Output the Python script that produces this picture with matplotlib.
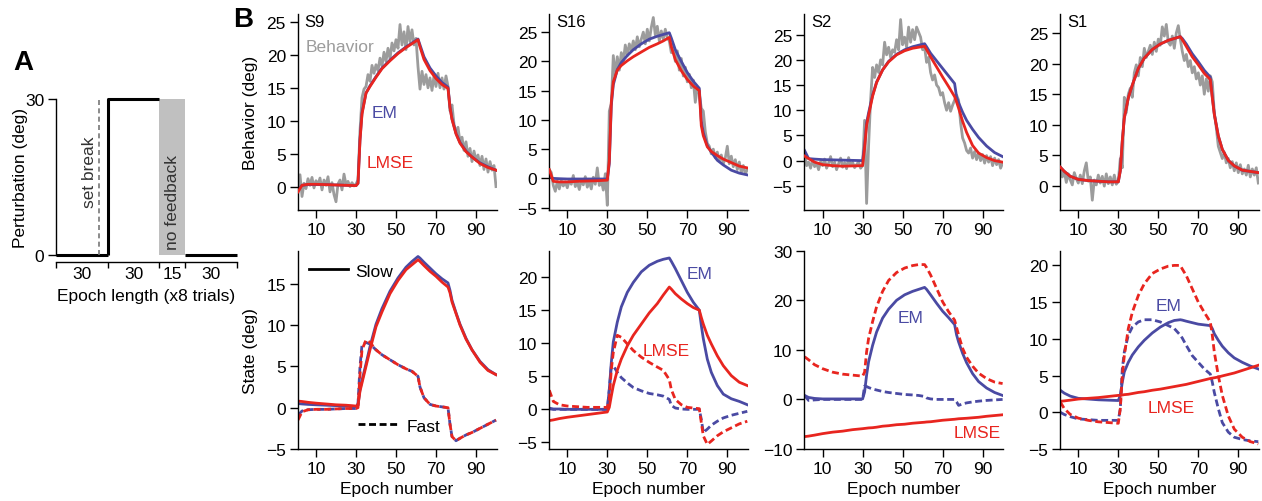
import matplotlib.pyplot as plt
from matplotlib.lines import Line2D
import numpy as np

plt.rcParams['font.family'] = ['Liberation Sans', 'DejaVu Sans']
plt.rcParams['font.size'] = 12.5
plt.rcParams['axes.linewidth'] = 1.0

BLUE = '#4a4aa3'
RED = '#e8251f'
GRAY = '#9c9c9c'
DASH = (0, (2.5, 1.3))

# ---- panel A: perturbation schedule
epoch_lengths = [30, 30, 15, 30]
epoch_labels = ['30', '30', '15', '30']
pert_levels = [0, 30, None, 0]   # None = no feedback block
set_break = 25

# ---- panel B data
epochs = np.arange(1, 101)
knots = [1, 3, 6, 10, 15, 20, 25, 30, 31, 32, 33, 35, 37, 40, 43, 47, 51, 55,
         58, 61, 62, 64, 67, 70, 73, 76, 77, 78, 80, 82, 85, 88, 92, 96, 100]

# S9
s9_behavior = [-0.8, 1.8, -1.5, 0.5, -0.3, 1.2, 0.2, 1.4, -0.2, 0.9,
               0.3, 1.3, -0.5, 1.0, 0.2, 1.5, -0.8, 0.6, -1.2, -2.3,
               0.4, 1.0, -0.5, 1.9, 0.3, 0.8, 0.0, 0.6, 0.1, 0.4,
               1.0, 8.5, 13.5, 14.8, 15.2, 17.0, 16.0, 18.4, 17.2, 18.5,
               17.6, 19.5, 18.3, 20.4, 19.0, 21.0, 19.4, 21.8, 20.6, 22.3,
               21.0, 24.6, 21.5, 23.5, 20.8, 24.3, 22.0, 23.8, 21.5, 22.5,
               18.2, 14.8, 17.5, 15.5, 17.0, 15.0, 16.5, 14.6, 16.8, 15.2,
               17.2, 15.0, 16.5, 14.8, 16.8, 15.2, 11.5, 12.4, 9.5, 8.2,
               9.0, 6.8, 7.5, 5.5, 6.8, 4.6, 5.8, 3.8, 5.4, 4.0,
               4.8, 3.2, 4.6, 2.6, 4.2, 2.2, 3.8, 2.5, 3.2, 0.0]
s9_em = [-0.5, 0.2, 0.3, 0.3, 0.3, 0.25, 0.2, 0.15,
         0.5, 7.2, 11.2, 14.2, 15.3, 16.7, 18.0, 19.2,
         20.3, 21.2, 21.8, 22.4, 21.5, 19.7, 18.0, 16.8,
         15.8, 15.1, 12.1, 10.3, 8.1, 6.7, 5.4, 4.5,
         3.6, 3.0, 2.5]
s9_lmse = [-0.8, 0.2, 0.35, 0.35, 0.3, 0.25, 0.2, 0.15,
           0.5, 7.0, 11.0, 14.2, 15.2, 16.6, 17.9, 19.1,
           20.2, 21.1, 21.7, 22.3, 21.2, 19.3, 17.6, 16.4,
           15.5, 14.9, 12.0, 10.2, 8.0, 6.6, 5.3, 4.5,
           3.5, 2.9, 2.5]
s9_em_slow = [0.5, 0.45, 0.4, 0.35, 0.3, 0.25, 0.2, 0.15,
              0.3, 2.2, 3.3, 5.3, 7.4, 10.1, 12.0, 14.1,
              15.7, 17.0, 17.7, 18.3, 18.1, 17.6, 16.9, 16.2,
              15.6, 15.1, 14.2, 13.0, 11.5, 10.1, 8.4, 7.0,
              5.6, 4.6, 4.0]
s9_lmse_slow = [0.8, 0.75, 0.65, 0.55, 0.45, 0.35, 0.3, 0.2,
                0.3, 2.0, 3.0, 5.0, 7.0, 9.8, 11.6, 13.8,
                15.4, 16.7, 17.3, 17.9, 17.7, 17.2, 16.5, 15.9,
                15.2, 14.6, 13.9, 12.8, 11.4, 10.0, 8.3, 7.0,
                5.5, 4.5, 4.0]
s9_em_fast = [-0.9, -0.4, -0.25, -0.2, -0.2, -0.15, -0.1, -0.1,
              0.5, 5.0, 7.6, 7.9, 7.7, 7.0, 6.4, 5.8,
              5.2, 4.7, 4.4, 3.8, 2.5, 1.2, 0.4, 0.2,
              0.1, 0.0, -2.0, -3.5, -4.0, -3.7, -3.3, -3.0,
              -2.5, -2.0, -1.5]
s9_lmse_fast = [-1.5, -0.5, -0.25, -0.2, -0.2, -0.15, -0.1, -0.1,
                0.0, 4.0, 7.0, 8.2, 7.9, 7.0, 6.4, 5.8,
                5.2, 4.7, 4.4, 3.8, 2.5, 1.2, 0.4, 0.2,
                0.1, 0.0, -2.0, -3.5, -4.0, -3.7, -3.3, -3.0,
                -2.5, -2.0, -1.5]

# S16
s16_behavior = [1.5, 1.0, -1.2, -2.2, -0.5, -1.8, -0.4, -1.3, -0.6, -1.6,
                -0.3, -1.0, 0.5, -1.4, -0.6, -1.9, -0.2, -1.1, 0.3, -1.5,
                -0.5, -1.8, 0.2, -1.0, 1.8, -1.2, -0.3, -2.0, 0.8, -4.6,
                11.5, 12.8, 21.0, 17.5, 20.8, 18.5, 21.5, 20.0, 22.8, 21.0,
                23.0, 21.8, 23.5, 22.0, 24.2, 22.5, 23.8, 25.0, 23.0, 25.5,
                23.5, 25.8, 27.5, 24.5, 26.0, 23.5, 25.2, 23.8, 25.5, 24.0,
                23.5, 21.5, 22.8, 20.0, 21.8, 18.5, 20.5, 17.5, 19.0, 16.5,
                17.8, 15.5, 16.8, 13.0, 15.5, 14.5, 12.0, 11.5, 8.0, 6.0,
                5.5, 4.2, 5.0, 3.5, 4.5, 3.0, 4.0, 2.5, 3.5, 5.5,
                2.5, 3.8, 2.0, 3.2, 1.5, 2.8, 1.0, 2.2, 0.8, 1.5]
s16_em = [0.2, 0.0, -0.05, -0.1, -0.1, -0.1, -0.1, -0.1,
          2.5, 12.5, 16.0, 18.6, 19.8, 21.0, 22.0, 23.0,
          23.8, 24.3, 24.6, 24.9, 24.0, 22.0, 20.0, 18.1,
          16.6, 15.4, 9.8, 7.8, 5.6, 4.5, 3.1, 2.3,
          1.4, 0.9, 0.6]
s16_lmse = [1.5, -0.5, -0.6, -0.6, -0.5, -0.45, -0.4, -0.3,
            3.0, 13.0, 16.5, 18.5, 19.3, 20.1, 20.8, 21.6,
            22.4, 23.0, 23.5, 24.1, 22.5, 20.3, 18.4, 16.9,
            15.8, 15.0, 9.0, 7.3, 5.4, 4.6, 3.9, 3.3,
            2.7, 2.1, 1.8]
s16_em_slow = [0.05, 0.05, 0.05, 0.0, 0.0, 0.0, 0.0, 0.0,
               3.0, 7.1, 10.2, 13.2, 15.5, 17.7, 19.2, 20.8,
               21.8, 22.4, 22.7, 22.9, 22.4, 21.3, 19.5, 17.7,
               16.2, 15.0, 12.7, 10.7, 7.6, 5.6, 3.6, 2.3,
               1.6, 1.2, 0.7]
s16_lmse_slow = [-1.7, -1.6, -1.4, -1.2, -1.0, -0.8, -0.6, -0.4,
                 0.3, 2.0, 3.6, 5.9, 7.6, 9.6, 11.2, 12.9,
                 14.6, 16.0, 17.3, 18.5, 18.2, 17.5, 16.7, 16.0,
                 15.4, 15.0, 13.9, 12.9, 11.2, 9.9, 8.1, 6.6,
                 5.1, 4.1, 3.6]
s16_em_fast = [0.2, 0.0, 0.0, 0.0, 0.0, 0.0, 0.0, 0.0,
               3.0, 6.5, 6.6, 5.6, 4.8, 4.0, 3.3, 2.8,
               2.4, 2.2, 2.0, 1.5, 0.6, 0.2, 0.05, 0.0,
               0.0, 0.0, -1.5, -3.5, -3.0, -2.4, -1.8, -1.3,
               -0.9, -0.6, -0.3]
s16_lmse_fast = [2.9, 1.2, 0.7, 0.5, 0.4, 0.3, 0.3, 0.3,
                 1.5, 6.0, 8.6, 11.2, 10.9, 9.9, 8.9, 7.9,
                 7.1, 6.4, 5.9, 4.5, 3.0, 1.5, 0.7, 0.3,
                 0.2, 0.1, -2.0, -4.0, -5.3, -4.8, -4.0, -3.4,
                 -2.8, -2.2, -1.8]

# S2
s2_behavior = [1.5, -1.0, -0.3, -1.5, 0.2, -1.2, -0.5, -1.8, -0.2, -1.0,
               0.3, -1.5, -0.5, 0.8, -1.2, -0.3, -1.8, -0.6, 0.5, -1.3,
               -0.4, -1.6, 0.6, -1.0, -0.3, -1.4, -0.8, -0.2, -1.5, -1.0,
               8.0, -8.5, 3.0, 12.0, 18.5, 16.5, 19.0, 17.5, 20.0, 19.0,
               23.5, 21.0, 22.5, 20.5, 22.0, 21.5, 24.0, 22.0, 28.0, 23.0,
               24.5, 22.5, 26.5, 23.5, 26.0, 24.0, 26.5, 25.5, 24.5, 22.0,
               22.5, 19.5, 20.5, 17.5, 16.0, 17.0, 15.0, 14.5, 13.0, 13.5,
               11.5, 10.0, 11.5, 9.8, 11.0, 12.0, 13.0, 12.0, 7.5, 4.5,
               3.5, 2.0, 1.5, 2.5, 0.5, 1.8, 0.2, 1.5, 0.0, 1.2,
               -0.5, 1.0, -0.3, 0.8, -1.0, 0.5, -0.8, 0.2, -1.5, -0.5]
s2_em = [2.0, 0.4, 0.3, 0.2, 0.15, 0.1, 0.05, 0.0,
         3.0, 7.5, 9.5, 13.0, 15.6, 18.0, 19.7, 21.1,
         22.0, 22.6, 22.9, 23.2, 22.6, 21.3, 19.8, 18.3,
         16.8, 15.3, 12.6, 11.5, 9.6, 8.0, 6.2, 4.6,
         2.9, 1.6, 0.8]
s2_lmse = [0.9, 0.4, -0.3, -0.8, -1.0, -1.1, -1.05, -1.0,
           2.5, 7.0, 9.0, 12.8, 15.5, 18.0, 19.6, 21.0,
           21.8, 22.3, 22.5, 22.7, 22.0, 20.6, 18.6, 16.6,
           14.7, 12.7, 11.6, 10.4, 7.8, 5.6, 3.0, 1.5,
           0.6, 0.0, -0.3]
s2_em_slow = [0.8, 0.4, 0.2, 0.1, 0.1, 0.1, 0.1, 0.1,
              1.5, 4.9, 7.6, 10.9, 13.6, 16.4, 18.2, 20.0,
              21.1, 21.8, 22.2, 22.6, 22.2, 21.1, 19.4, 17.8,
              16.5, 15.1, 13.0, 11.6, 9.3, 7.4, 5.2, 3.6,
              2.3, 1.4, 0.8]
s2_lmse_slow = [-7.5, -7.4, -7.2, -6.9, -6.6, -6.4, -6.1, -5.9,
                -5.85, -5.8, -5.75, -5.7, -5.6, -5.4, -5.3, -5.1,
                -5.0, -4.8, -4.7, -4.6, -4.55, -4.5, -4.35, -4.2,
                -4.1, -4.0, -3.95, -3.9, -3.85, -3.8, -3.7, -3.6,
                -3.4, -3.25, -3.1]
s2_em_fast = [0.8, -0.2, -0.1, 0.0, 0.0, 0.0, 0.0, 0.0,
              2.7, 2.6, 2.4, 2.1, 1.9, 1.6, 1.4, 1.2,
              1.0, 0.9, 0.8, 0.6, 0.3, 0.1, 0.0, 0.0,
              0.0, 0.0, -0.5, -1.2, -0.9, -0.7, -0.5, -0.35,
              -0.2, -0.1, 0.0]
s2_lmse_fast = [8.6, 8.0, 7.0, 6.2, 5.5, 5.1, 4.9, 4.7,
                5.5, 9.6, 12.3, 15.7, 18.7, 21.8, 24.0, 25.6,
                26.5, 27.0, 27.2, 27.2, 26.6, 25.1, 22.4, 19.7,
                17.7, 16.0, 14.5, 13.0, 10.3, 8.5, 6.7, 5.3,
                4.2, 3.5, 3.2]

# S1
s1_behavior = [3.0, 1.5, 2.4, 0.6, 2.0, 1.0, 0.2, 2.2, 1.2, 0.5,
               1.8, 0.4, 2.5, 3.8, 0.8, 1.5, -2.3, 1.0, 0.2, 1.8,
               0.5, 1.6, 0.0, 2.0, 0.4, 1.5, 0.2, 1.8, 0.3, 0.8,
               4.5, 3.0, 14.5, 12.0, 15.0, 16.0, 14.5, 18.5, 19.8, 18.0,
               21.0, 19.5, 22.5, 21.0, 22.0, 23.0, 21.5, 23.5, 22.0, 24.0,
               23.0, 26.0, 24.5, 26.4, 23.5, 23.0, 24.5, 22.5, 25.0, 26.2,
               24.0, 22.0, 20.5, 21.5, 19.5, 20.5, 18.5, 19.5, 17.5, 18.5,
               16.5, 18.0, 15.0, 17.5, 15.5, 18.0, 17.0, 12.0, 9.5, 6.5,
               5.5, 4.5, 5.5, 3.8, 4.5, 3.0, 4.0, 2.5, 3.8, 2.2,
               3.5, 2.0, 2.8, 1.8, 3.4, 1.5, 2.8, 1.8, 3.0, 0.5]
s1_em = [3.1, 2.4, 1.6, 1.1, 0.9, 0.8, 0.7, 0.7,
         2.5, 7.4, 11.1, 14.4, 16.5, 19.2, 20.9, 22.3,
         23.2, 23.8, 24.1, 24.4, 24.1, 23.2, 21.6, 20.3,
         18.9, 17.8, 14.6, 11.8, 8.2, 6.0, 4.2, 3.3,
         2.6, 2.4, 2.2]
s1_lmse = [3.1, 2.4, 1.6, 1.1, 0.9, 0.8, 0.7, 0.7,
           2.5, 7.4, 11.1, 14.4, 16.5, 19.2, 20.9, 22.3,
           23.2, 23.8, 24.1, 24.4, 23.9, 22.8, 21.1, 19.8,
           18.4, 17.4, 14.4, 11.7, 8.2, 6.0, 4.2, 3.3,
           2.6, 2.4, 2.2]
s1_em_slow = [3.0, 2.6, 2.2, 1.9, 1.8, 1.7, 1.65, 1.6,
              2.3, 4.1, 5.5, 6.8, 7.8, 8.9, 9.8, 10.8,
              11.6, 12.2, 12.5, 12.6, 12.55, 12.4, 12.2, 12.0,
              11.9, 11.8, 11.4, 10.7, 9.8, 9.0, 8.1, 7.4,
              6.8, 6.3, 5.9]
s1_lmse_slow = [1.5, 1.55, 1.65, 1.8, 1.9, 2.0, 2.15, 2.3,
                2.3, 2.35, 2.4, 2.45, 2.55, 2.7, 2.8, 3.0,
                3.15, 3.35, 3.5, 3.65, 3.7, 3.8, 4.0, 4.2,
                4.4, 4.6, 4.65, 4.7, 4.8, 4.95, 5.15, 5.35,
                5.7, 6.05, 6.4]
s1_em_fast = [0.0, -0.3, -0.6, -0.9, -1.0, -1.1, -1.1, -1.1,
              0.5, 5.9, 8.2, 10.5, 11.6, 12.3, 12.6, 12.6,
              12.3, 11.8, 11.4, 10.5, 10.1, 9.1, 7.7, 6.8,
              5.9, 5.2, 4.1, 2.7, 0.5, -1.4, -2.7, -3.4,
              -3.7, -3.9, -4.0]
s1_lmse_fast = [1.4, 0.5, -0.3, -0.8, -1.1, -1.3, -1.4, -1.5,
                0.5, 5.0, 7.7, 11.4, 13.6, 15.9, 17.5, 18.9,
                19.5, 19.9, 20.0, 20.0, 19.5, 18.6, 16.8, 15.0,
                13.6, 12.3, 10.5, 8.2, 5.0, 2.3, -0.5, -2.3,
                -3.4, -4.0, -4.3]

subjects = ['S9', 'S16', 'S2', 'S1']
behavior = [s9_behavior, s16_behavior, s2_behavior, s1_behavior]
em_fit = [s9_em, s16_em, s2_em, s1_em]
lmse_fit = [s9_lmse, s16_lmse, s2_lmse, s1_lmse]
em_slow = [s9_em_slow, s16_em_slow, s2_em_slow, s1_em_slow]
em_fast = [s9_em_fast, s16_em_fast, s2_em_fast, s1_em_fast]
lmse_slow = [s9_lmse_slow, s16_lmse_slow, s2_lmse_slow, s1_lmse_slow]
lmse_fast = [s9_lmse_fast, s16_lmse_fast, s2_lmse_fast, s1_lmse_fast]

top_ylims = [(-3.55, 26.2), (-5.4, 28.1), (-9.8, 29.1), (-3.9, 28.1)]
top_yticks = [range(0, 26, 5), range(-5, 26, 5), range(-5, 26, 5), range(0, 26, 5)]
bot_ylims = [(-5, 19.0), (-6.0, 24.0), (-10, 30), (-5, 22.0)]
bot_yticks = [range(-5, 16, 5), range(-5, 21, 5), range(-10, 31, 10), range(-5, 21, 5)]

W, H = 1262, 502
fig = plt.figure(figsize=(W / 100, H / 100), dpi=100)


def rect(l, t, r, b):
    return [l / W, 1 - b / H, (r - l) / W, (b - t) / H]


def style(ax):
    for s in ['top', 'right']:
        ax.spines[s].set_visible(False)
    ax.tick_params(direction='out', length=5.5, width=1, labelsize=12.5, pad=3)


# ---------------- panel A
axA = fig.add_axes(rect(56, 100, 237, 256))
style(axA)
bounds = np.concatenate([[0], np.cumsum(epoch_lengths)])
prev = None
for i, lev in enumerate(pert_levels):
    x0, x1 = bounds[i], bounds[i + 1]
    if lev is None:
        axA.axvspan(x0, x1, ymin=0, ymax=1, color='#c0c0c0', lw=0)
        axA.text((x0 + x1) / 2, 10.3, 'no feedback', rotation=90,
                 ha='center', va='center', color='#333333')
        prev = None
        continue
    xs, ys = [x0, x1], [lev, lev]
    if prev is not None and prev != lev:
        xs, ys = [x0] + xs, [prev] + ys
    axA.plot(xs, ys, color='k', lw=2.2, clip_on=False, solid_capstyle='butt')
    prev = lev
axA.plot([set_break, set_break], [0, 30], color='#777777', lw=1.2, ls=(0, (3, 2)))
axA.text(set_break - 5.8, 16.2, 'set break', rotation=90, ha='center', va='center',
         color='#333333')
axA.set_xlim(0, bounds[-1])
axA.set_ylim(0, 30)
axA.set_yticks([0, 30])
axA.set_xticks(bounds)
axA.set_xticklabels([])
axA.set_xticks((bounds[:-1] + bounds[1:]) / 2, minor=True)
axA.set_xticklabels(epoch_labels, minor=True)
axA.tick_params(axis='x', which='major', length=4.5)
axA.tick_params(axis='x', which='minor', length=0, pad=3, labelsize=12.5)
axA.spines['bottom'].set_position(('outward', 5))
axA.set_xlabel('Epoch length (x8 trials)', labelpad=5)
axA.set_ylabel('Perturbation (deg)')
axA.yaxis.set_label_coords(-0.155, 0.5)

fig.text(23 / W, 1 - 63 / H, 'A', fontsize=20, fontweight='bold', ha='center', va='center')
fig.text(243 / W, 1 - 20 / H, 'B', fontsize=20, fontweight='bold', ha='center', va='center')

# ---------------- panel B
cols = [297.7, 549, 804.3, 1060]
for i, name in enumerate(subjects):
    l = cols[i]
    axt = fig.add_axes(rect(l, 15, l + 198.8, 211))
    axb = fig.add_axes(rect(l, 251.7, l + 198.8, 450))
    for ax in (axt, axb):
        style(ax)
        ax.set_xlim(0.85, 100.25)
        ax.set_xticks([10, 30, 50, 70, 90])

    axt.plot(epochs, behavior[i], color=GRAY, lw=2, zorder=1)
    axt.plot(knots, em_fit[i], color=BLUE, lw=2, zorder=2)
    axt.plot(knots, lmse_fit[i], color=RED, lw=2, zorder=3)
    axt.set_ylim(*top_ylims[i])
    axt.set_yticks(list(top_yticks[i]))
    axt.text(0.035, 0.96, name, transform=axt.transAxes, ha='left', va='center', fontsize=12)

    axb.plot(knots, em_slow[i], color=BLUE, lw=2)
    axb.plot(knots, em_fast[i], color=BLUE, lw=2, ls=DASH)
    axb.plot(knots, lmse_slow[i], color=RED, lw=2)
    axb.plot(knots, lmse_fast[i], color=RED, lw=2, ls=DASH)
    axb.set_ylim(*bot_ylims[i])
    axb.set_yticks(list(bot_yticks[i]))
    axb.set_xlabel('Epoch number', labelpad=4)

    if i == 0:
        axt.text(0.04, 0.835, 'Behavior', transform=axt.transAxes, ha='left', va='center',
                 color=GRAY)
        axt.text(44.5, 11.3, 'EM', color=BLUE, ha='center', va='center')
        axt.text(47, 3.7, 'LMSE', color=RED, ha='center', va='center')
        axt.set_ylabel('Behavior (deg)')
        axt.yaxis.set_label_coords(-0.2, 0.5)
        axb.set_ylabel('State (deg)')
        axb.yaxis.set_label_coords(-0.2, 0.5)
        leg1 = axb.legend([Line2D([], [], color='k', lw=2)], ['Slow'], loc='center left',
                          bbox_to_anchor=(0.057, 0.898), frameon=False, handlelength=2.25,
                          handletextpad=0.4, borderpad=0, borderaxespad=0)
        axb.add_artist(leg1)
        axb.legend([Line2D([], [], color='k', lw=2, ls=DASH)], ['Fast'], loc='center left',
                   bbox_to_anchor=(0.303, 0.116), frameon=False, handlelength=2.4,
                   handletextpad=0.4, borderpad=0, borderaxespad=0)
    elif i == 1:
        axb.text(76.3, 20.5, 'EM', color=BLUE, ha='center', va='center')
        axb.text(59.3, 8.9, 'LMSE', color=RED, ha='center', va='center')
    elif i == 2:
        axb.text(54.2, 16.6, 'EM', color=BLUE, ha='center', va='center')
        axb.text(87.2, -6.6, 'LMSE', color=RED, ha='center', va='center')
    else:
        axb.text(54.9, 14.5, 'EM', color=BLUE, ha='center', va='center')
        axb.text(56.4, 0.7, 'LMSE', color=RED, ha='center', va='center')

fig.savefig('out.png', dpi=100)
